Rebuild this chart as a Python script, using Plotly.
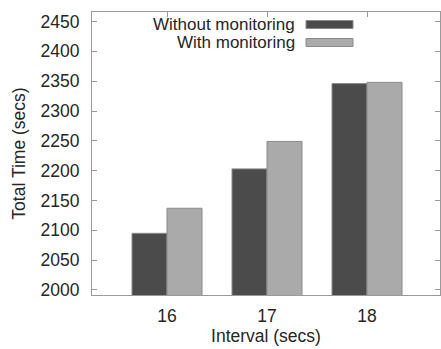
import plotly.graph_objects as go

intervals = [16, 17, 18]
series_names = ["Without monitoring", "With monitoring"]
without_monitoring = [2095, 2203, 2346]
with_monitoring = [2137, 2249, 2348]
y_ticks = [2000, 2050, 2100, 2150, 2200, 2250, 2300, 2350, 2400, 2450]

colors = ["#4b4b4b", "#aaaaaa"]
FONT = dict(family="Liberation Sans, Arial, sans-serif", size=17.5, color="#262626")
LEG_FONT = dict(family="Liberation Sans, Arial, sans-serif", size=17, color="#262626")

W, H = 441, 349
L, R, T, B = 92, 1, 12, 54
pw, ph = W - L - R, H - T - B

fig = go.Figure()
for name, vals, c in zip(series_names, [without_monitoring, with_monitoring], colors):
    fig.add_trace(go.Bar(x=intervals, y=vals, name=name,
                         marker=dict(color=c, line=dict(color="#8a8a8a", width=1)),
                         showlegend=False))

# manual legend (text left, swatch right) in paper coords
def px2x(p):
    return (p - L) / pw

def py2y(p):
    return (H - B - p) / ph

legend_rows = [24.5, 42.5]
for name, c, yc in zip(series_names, colors, legend_rows):
    fig.add_annotation(x=px2x(296), y=py2y(yc), xref="paper", yref="paper",
                       text=name, showarrow=False, xanchor="right", yanchor="middle",
                       borderpad=0, font=LEG_FONT)
    fig.add_shape(type="rect", xref="paper", yref="paper",
                  x0=px2x(306), x1=px2x(353), y0=py2y(yc - 4), y1=py2y(yc + 4),
                  fillcolor=c, line=dict(color="#8a8a8a", width=1))

axis_common = dict(showline=True, linecolor="#9a9a9a", linewidth=1, mirror="ticks",
                   ticks="inside", ticklen=5, tickcolor="#9a9a9a", tickwidth=1,
                   showgrid=False, zeroline=False, tickfont=FONT, layer="below traces",
                   automargin=False)

fig.update_layout(
    width=W, height=H,
    margin=dict(l=L, r=R, t=T, b=B),
    paper_bgcolor="white", plot_bgcolor="white",
    barmode="group", bargap=0.3, bargroupgap=0,
    font=FONT,
    xaxis=dict(range=[15.25, 18.73], tickvals=intervals, ticktext=[str(v) for v in intervals],
               title=dict(text="Interval (secs)", font=FONT, standoff=2),
               ticklabelstandoff=5, **axis_common),
    yaxis=dict(range=[1991.6, 2466], tickvals=y_ticks,
               title=dict(text="Total Time (secs)", font=FONT, standoff=10),
               ticklabelstandoff=8, **axis_common),
)

fig.write_html("out.html", config={"displayModeBar": False},
               post_script="document.body.style.margin='0';")
